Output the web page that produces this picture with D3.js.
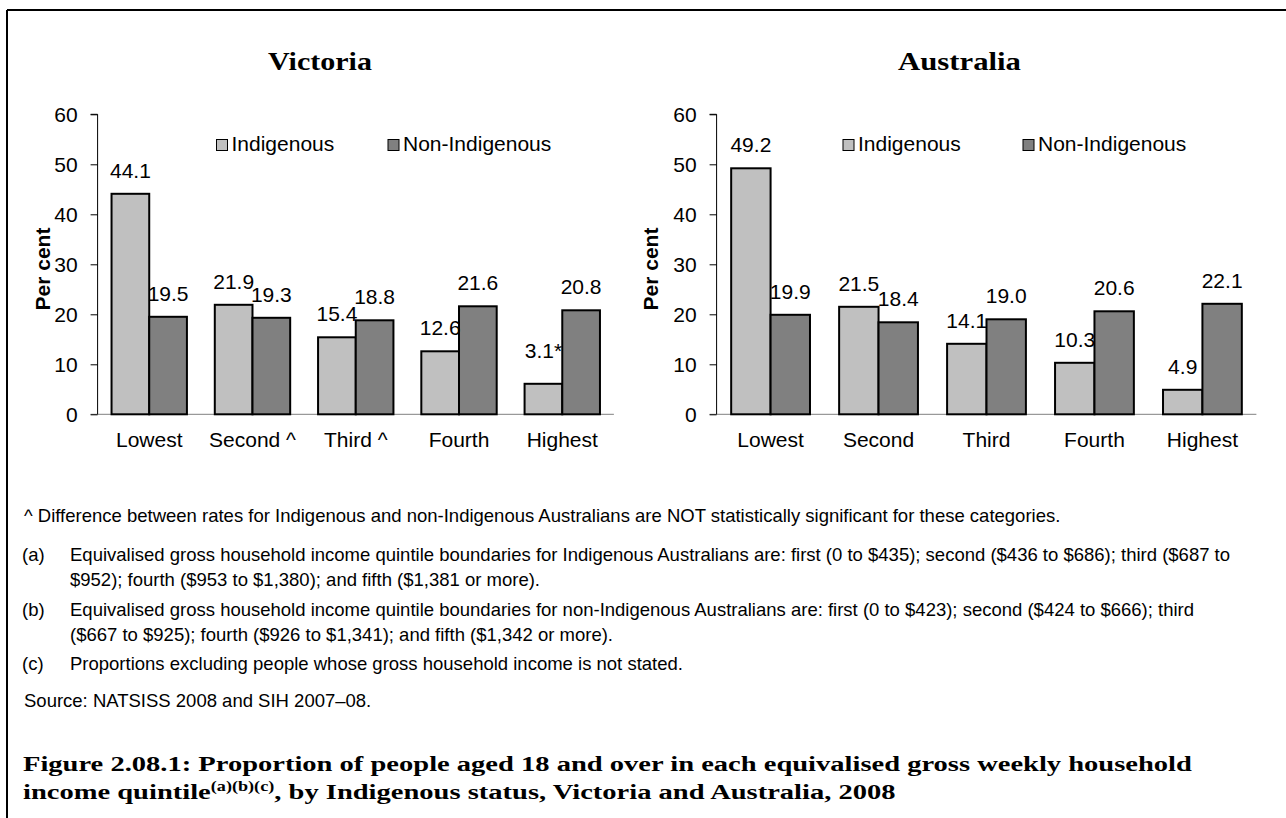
<!DOCTYPE html>
<html>
<head>
<meta charset="utf-8">
<script src="https://cdn.jsdelivr.net/npm/d3@7"></script>
<style>
  html, body { margin: 0; padding: 0; background: #fff; }
  svg { display: block; }
</style>
</head>
<body>
<svg id="chart" width="1286" height="818"></svg>
<script>
// ---------------- DATA ----------------
const seriesNames = ["Indigenous", "Non-Indigenous"];
const vicCategories = ["Lowest", "Second ^", "Third ^", "Fourth", "Highest"];
const ausCategories = ["Lowest", "Second", "Third", "Fourth", "Highest"];
// bar heights as drawn
const vicIndigenous = [44.1, 21.9, 15.4, 12.6, 6.1];
const vicNonIndigenous = [19.5, 19.3, 18.8, 21.6, 20.8];
const ausIndigenous = [49.2, 21.5, 14.1, 10.3, 4.9];
const ausNonIndigenous = [19.9, 18.4, 19.0, 20.6, 22.1];
// printed value labels
const vicIndigenousLabels = ["44.1", "21.9", "15.4", "12.6", "3.1*"];
const vicNonIndigenousLabels = ["19.5", "19.3", "18.8", "21.6", "20.8"];
const ausIndigenousLabels = ["49.2", "21.5", "14.1", "10.3", "4.9"];
const ausNonIndigenousLabels = ["19.9", "18.4", "19.0", "20.6", "22.1"];
const yTicks = [0, 10, 20, 30, 40, 50, 60];
const yAxisTitle = "Per cent";
const footnotes = [
  {mark: null, lines: ["^ Difference between rates for Indigenous and non-Indigenous Australians are NOT statistically significant for these categories."]},
  {mark: "(a)", lines: ["Equivalised gross household income quintile boundaries for Indigenous Australians are: first (0 to $435); second ($436 to $686); third ($687 to", "$952); fourth ($953 to $1,380); and fifth ($1,381 or more)."]},
  {mark: "(b)", lines: ["Equivalised gross household income quintile boundaries for non-Indigenous Australians are: first (0 to $423); second ($424 to $666); third", "($667 to $925); fourth ($926 to $1,341); and fifth ($1,342 or more)."]},
  {mark: "(c)", lines: ["Proportions excluding people whose gross household income is not stated."]},
  {mark: null, lines: ["Source: NATSISS 2008 and SIH 2007\u201308."]}
];
const figureTitle1 = "Figure 2.08.1: Proportion of people aged 18 and over in each equivalised gross weekly household";
const figureTitle2a = "income quintile";
const figureTitle2sup = "(a)(b)(c)";
const figureTitle2b = ", by Indigenous status, Victoria and Australia, 2008";

// ---------------- STYLE ----------------
const colors = {"Indigenous": "#c0c0c0", "Non-Indigenous": "#808080"};
const SANS = "'Liberation Sans', Arial, Helvetica, sans-serif";
const SERIF = "'Liberation Serif', 'Times New Roman', serif";
const FS = 21;

const svg = d3.select("#chart");

// outer frame
svg.append("line").attr("x1", 7).attr("y1", 10).attr("x2", 1286).attr("y2", 10)
  .attr("stroke", "#000").attr("stroke-width", 2);
svg.append("line").attr("x1", 7).attr("y1", 10).attr("x2", 7).attr("y2", 818)
  .attr("stroke", "#000").attr("stroke-width", 2);

function txt(parent, x, y, str, opts) {
  const o = Object.assign({size: FS, anchor: "start", weight: "normal", family: SANS, sx: 1, rotate: 0, fit: null}, opts || {});
  const t = parent.append("text")
    .attr("text-anchor", o.anchor)
    .attr("font-family", o.family)
    .attr("font-size", o.size)
    .attr("font-weight", o.weight)
    .attr("fill", "#000")
    .text(str);
  let sx = o.sx;
  if (o.fit) sx = o.fit / t.node().getComputedTextLength();
  t.attr("transform", `translate(${x},${y}) scale(${sx},1)` + (o.rotate ? ` rotate(${o.rotate})` : ""));
  return t;
}

function drawPanel(cfg) {
  const g = svg.append("g");
  const y = d3.scaleLinear().domain([0, 60]).range([cfg.y0, cfg.y1]);
  const x = d3.scaleBand().domain(cfg.categories).range([cfg.x0, cfg.x1])
    .paddingInner(0.27).paddingOuter(0.135);
  const xs = d3.scaleBand().domain(seriesNames).range([0, x.bandwidth()]);

  // title
  txt(g, cfg.titleX, 69.5, cfg.title, {size: 26, anchor: "middle", weight: "bold", family: SERIF, fit: cfg.titleW});

  // x axis line
  const xAxis = d3.axisBottom(x).tickSize(0).tickFormat("");
  const xa = g.append("g").attr("transform", `translate(0,${cfg.y0})`).call(xAxis);
  xa.select(".domain").attr("stroke", "#808080").attr("stroke-width", 1).attr("d", `M${cfg.x0 - 7},0H${cfg.x1}`);

  // y axis
  const yAxis = d3.axisLeft(y).tickValues(yTicks).tickSize(7).tickPadding(0).tickFormat("");
  const ya = g.append("g").attr("transform", `translate(${cfg.x0},0)`).call(yAxis);
  ya.select(".domain").attr("stroke", "#000").attr("stroke-width", 1).attr("d", `M-7,${cfg.y1}H0V${cfg.y0}`);
  ya.selectAll(".tick line").attr("stroke", "#000");
  ya.selectAll(".tick").each(function(d) {
    txt(g, cfg.x0 - 20, y(d) + 8, String(d), {anchor: "end"});
  });

  // category labels
  cfg.categories.forEach(c => {
    txt(g, x(c) + x.bandwidth() / 2, 447, c, {anchor: "middle"});
  });

  // y axis title
  txt(g, cfg.yTitleX, 269, yAxisTitle, {anchor: "middle", weight: "bold", rotate: -90});

  // bars
  const rows = cfg.categories.map((c, i) => ({
    cat: c,
    vals: [
      {s: seriesNames[0], v: cfg.a[i], label: cfg.aLabels[i]},
      {s: seriesNames[1], v: cfg.b[i], label: cfg.bLabels[i]}
    ]
  }));
  const grp = g.selectAll("g.grp").data(rows).join("g").attr("class", "grp")
    .attr("transform", d => `translate(${x(d.cat)},0)`);
  grp.selectAll("rect").data(d => d.vals).join("rect")
    .attr("x", d => xs(d.s))
    .attr("width", xs.bandwidth())
    .attr("y", d => y(d.v))
    .attr("height", d => y(0) - y(d.v))
    .attr("fill", d => colors[d.s])
    .attr("stroke", "#000")
    .attr("stroke-width", 2);
  grp.each(function(d) {
    const gg = d3.select(this);
    d.vals.forEach(v => {
      const extra = v.label.endsWith("*") ? 10 : 0;
      txt(gg, xs(v.s) + xs.bandwidth() / 2, y(v.v) - 16 - extra, v.label, {anchor: "middle"});
    });
  });

  // legend
  cfg.legend.forEach((lx, i) => {
    g.append("rect").attr("x", lx).attr("y", 139.5).attr("width", 11).attr("height", 11)
      .attr("fill", colors[seriesNames[i]]).attr("stroke", "#000").attr("stroke-width", 1);
    txt(g, lx + 15, 151, seriesNames[i], {});
  });
}

drawPanel({
  title: "Victoria", titleX: 320, titleW: 104,
  categories: vicCategories,
  a: vicIndigenous, b: vicNonIndigenous,
  aLabels: vicIndigenousLabels, bLabels: vicNonIndigenousLabels,
  x0: 97.6, x1: 613.9, y0: 414.3, y1: 114.3,
  yTitleX: 50, legend: [216.5, 388]
});
drawPanel({
  title: "Australia", titleX: 959.5, titleW: 123,
  categories: ausCategories,
  a: ausIndigenous, b: ausNonIndigenous,
  aLabels: ausIndigenousLabels, bLabels: ausNonIndigenousLabels,
  x0: 716.6, x1: 1256.4, y0: 414.3, y1: 114.3,
  yTitleX: 658, legend: [843, 1023]
});

// ---------------- FOOTNOTES ----------------
const fn = svg.append("g");
const fnBaselines = [[522], [561, 586], [616, 641], [670], [707]];
const FN = 18.5;
footnotes.forEach((f, i) => {
  if (f.mark) {
    txt(fn, 22, fnBaselines[i][0], f.mark, {size: FN});
    f.lines.forEach((l, j) => txt(fn, 70, fnBaselines[i][j], l, {size: FN}));
  } else {
    txt(fn, 24, fnBaselines[i][0], f.lines[0], {size: FN});
  }
});

// ---------------- FIGURE TITLE ----------------
const tt = svg.append("g");
const t1 = txt(tt, 23, 771, figureTitle1, {size: 22, weight: "bold", family: SERIF, fit: 1169});
const titleSX = 1169 / t1.node().getComputedTextLength();
const t2 = tt.append("text").attr("transform", `translate(23,799) scale(${titleSX},1)`)
  .attr("font-family", SERIF).attr("font-size", 22).attr("font-weight", "bold").attr("fill", "#000");
t2.append("tspan").text(figureTitle2a);
t2.append("tspan").attr("font-size", 14).attr("dy", -8).text(figureTitle2sup);
t2.append("tspan").attr("dy", 8).text(figureTitle2b);
</script>
</body>
</html>
